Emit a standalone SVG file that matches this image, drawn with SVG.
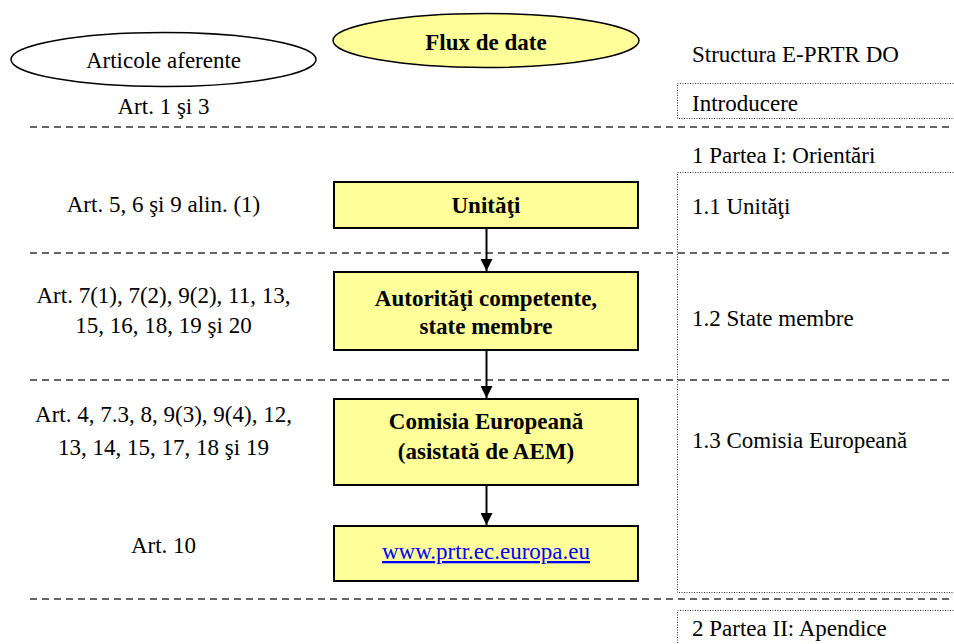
<svg xmlns="http://www.w3.org/2000/svg" width="954" height="644" viewBox="0 0 954 644" font-family="'Liberation Serif', Tinos, 'Times New Roman', 'DejaVu Serif', serif">
<style>
text{font-family:'Liberation Serif', Tinos, 'Times New Roman', 'DejaVu Serif', serif;font-size:23px;fill:#000}
.c{text-anchor:middle}
.b{font-weight:bold}
.box{fill:#ffff99;stroke:#000;stroke-width:2}
.ell{stroke:#000;stroke-width:1.5}
.dash{stroke:#333;stroke-width:1.5;stroke-dasharray:7 5;fill:none}
.dot{stroke:#333;stroke-width:1;stroke-dasharray:1 1.5;fill:none}
.conn{stroke:#000;stroke-width:2;fill:none}
.link{fill:#0000ff;text-decoration:underline}
</style>
<defs>
<marker id="ah" viewBox="0 0 10 10" refX="10" refY="5" markerWidth="6" markerHeight="6" orient="auto" markerUnits="strokeWidth">
<path d="M0,0 L10,5 L0,10 z" fill="#000"/>
</marker>
</defs>
<rect width="954" height="644" fill="#fff"/>
<g id="separators">
<line class="dash" x1="30" y1="127" x2="954" y2="127"/>
<line class="dash" x1="30" y1="253" x2="954" y2="253"/>
<line class="dash" x1="30" y1="380" x2="954" y2="380"/>
<line class="dash" x1="30" y1="599" x2="954" y2="599"/>
</g>
<g id="header-articole">
<ellipse class="ell" cx="163.5" cy="59.5" rx="152.5" ry="27" fill="#fff"/>
<text class="c" x="163.5" y="67.5">Articole aferente</text>
</g>
<g id="header-flux">
<ellipse class="ell" cx="486" cy="40.5" rx="153" ry="27" fill="#ffff99"/>
<text class="c b" x="486" y="50">Flux de date</text>
</g>
<g id="header-structura">
<text x="692" y="62">Structura E-PRTR DO</text>
</g>
<g id="art-1">
<text class="c" x="163.5" y="114">Art. 1 şi 3</text>
</g>
<g id="art-2">
<text class="c" x="163.5" y="212">Art. 5, 6 şi 9 alin. (1)</text>
</g>
<g id="art-3">
<text class="c" x="163.5" y="303">Art. 7(1), 7(2), 9(2), 11, 13,</text>
<text class="c" x="163.5" y="333">15, 16, 18, 19 şi 20</text>
</g>
<g id="art-4">
<text class="c" x="163.5" y="422">Art. 4, 7.3, 8, 9(3), 9(4), 12,</text>
<text class="c" x="163.5" y="455">13, 14, 15, 17, 18 şi 19</text>
</g>
<g id="art-5">
<text class="c" x="163.5" y="553">Art. 10</text>
</g>
<g id="connectors">
<line class="conn" x1="486.5" y1="228" x2="486.5" y2="271" marker-end="url(#ah)"/>
<line class="conn" x1="486.5" y1="350" x2="486.5" y2="398" marker-end="url(#ah)"/>
<line class="conn" x1="486.5" y1="485" x2="486.5" y2="525" marker-end="url(#ah)"/>
</g>
<g id="node-unitati">
<rect class="box" x="334" y="182" width="304" height="46"/>
<text class="c b" x="486" y="213">Unităţi</text>
</g>
<g id="node-autoritati">
<rect class="box" x="334" y="272" width="304" height="78"/>
<text class="c b" x="486" y="306">Autorităţi competente,</text>
<text class="c b" x="486" y="334">state membre</text>
</g>
<g id="node-comisia">
<rect class="box" x="334" y="399" width="304" height="86"/>
<text class="c b" x="486" y="429">Comisia Europeană</text>
<text class="c b" x="486" y="459">(asistată de AEM)</text>
</g>
<g id="node-web">
<rect class="box" x="334" y="526" width="304" height="55"/>
<text class="c link" x="486" y="559">www.prtr.ec.europa.eu</text>
</g>
<g id="struct-intro">
<rect class="dot" x="677.5" y="83.5" width="300" height="35"/>
<text x="692" y="111">Introducere</text>
</g>
<g id="struct-partea1">
<text x="692" y="163">1 Partea I: Orientări</text>
<rect class="dot" x="677.5" y="172.5" width="300" height="420"/>
<text x="692" y="214">1.1 Unităţi</text>
<text x="692" y="326">1.2 State membre</text>
<text x="692" y="448">1.3 Comisia Europeană</text>
</g>
<g id="struct-partea2">
<rect class="dot" x="677.5" y="610.5" width="300" height="60"/>
<text x="692" y="636">2 Partea II: Apendice</text>
</g>
</svg>
